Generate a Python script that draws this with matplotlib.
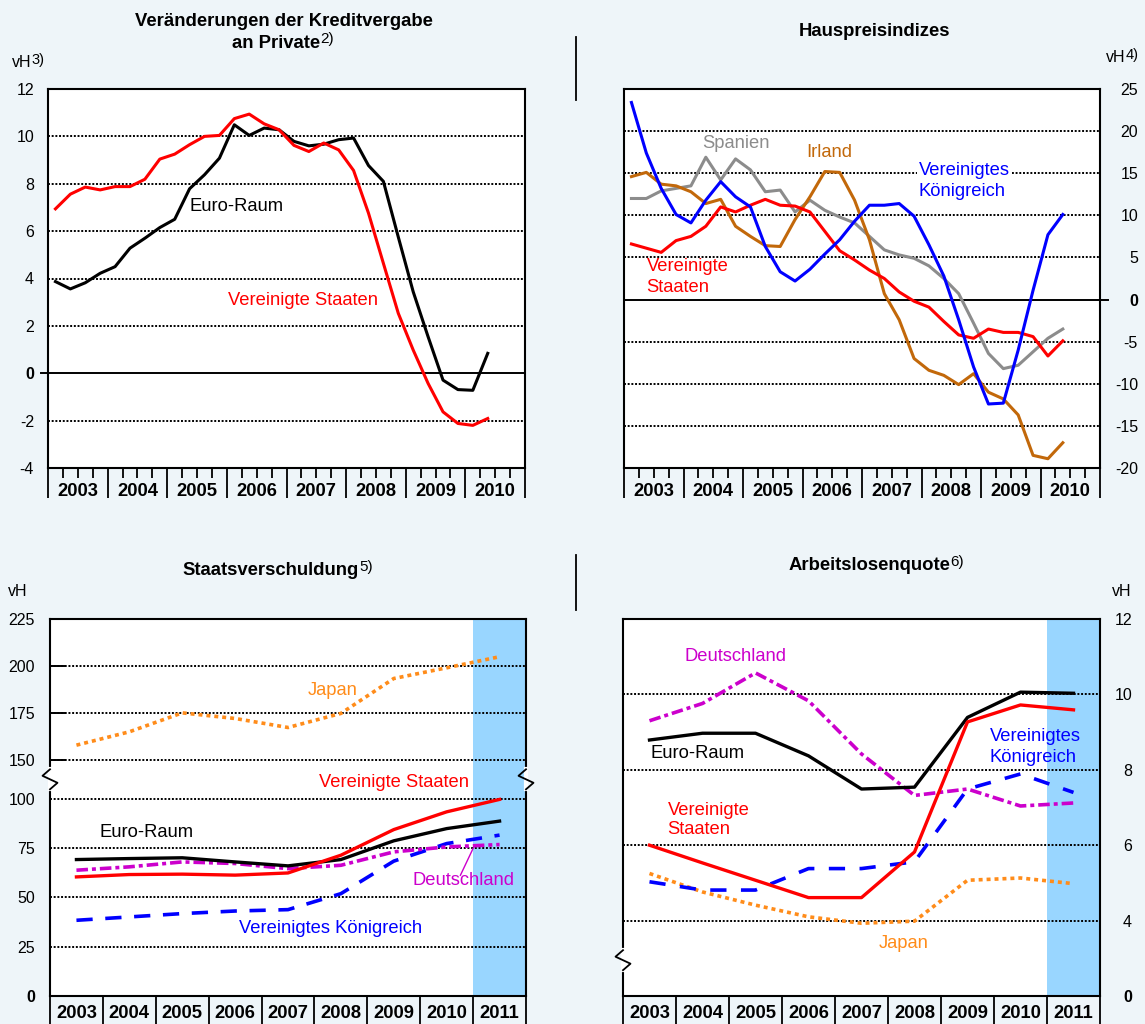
import numpy as np
import matplotlib.pyplot as plt
from matplotlib.lines import Line2D
from matplotlib.text import Annotation

plt.rcParams['font.family'] = ['Liberation Sans', 'DejaVu Sans']

BG = '#EEF5F9'
SHADE = '#99D6FF'
RED = '#FF0000'
BLUE = '#0000FF'
GRAY = '#8C8C8C'
BROWN = '#C2680A'
ORANGE = '#FF8C1A'
MAGENTA = '#CC00CC'

W, H = 1145, 1024

# ---------------- data ----------------
# quarterly series 2003Q1 .. 2010Q2 (points at quarter centres)
quarter_pos = np.arange(2003, 2010.5, 0.25) + 0.125
quarter_ticks = [y + q for y in range(2003, 2011) for q in (0.25, 0.5, 0.75)]
years_q = list(range(2003, 2011))

credit_euro = [3.87, 3.56, 3.82, 4.22, 4.50, 5.28, 5.70, 6.15, 6.50, 7.79,
               8.38, 9.08, 10.49, 10.04, 10.35, 10.28, 9.79, 9.60, 9.67, 9.86,
               9.93, 8.77, 8.10, 5.75, 3.44, 1.54, -0.29, -0.69, -0.72, 0.84]
credit_us = [6.94, 7.56, 7.86, 7.74, 7.88, 7.88, 8.19, 9.04, 9.25, 9.65,
             10.00, 10.04, 10.75, 10.94, 10.53, 10.28, 9.62, 9.36, 9.72, 9.43,
             8.56, 6.76, 4.64, 2.53, 0.98, -0.43, -1.63, -2.12, -2.20, -1.91]

house_uk = [23.4, 17.4, 13.2, 10.1, 9.1, 11.8, 14.0, 12.2, 11.0, 6.3,
            3.3, 2.2, 3.6, 5.4, 7.1, 9.3, 11.2, 11.2, 11.4, 9.9,
            6.5, 2.8, -2.4, -8.0, -12.4, -12.3, -6.0, 1.1, 7.7, 10.1]
house_es = [12.0, 12.0, 12.9, 13.2, 13.5, 16.9, 14.2, 16.7, 15.4, 12.8,
            13.0, 10.4, 11.8, 10.6, 9.8, 9.1, 7.5, 5.9, 5.3, 4.9,
            4.0, 2.5, 0.7, -2.8, -6.4, -8.2, -7.8, -6.2, -4.6, -3.5]
house_ie = [14.6, 15.1, 13.7, 13.5, 12.8, 11.4, 11.9, 8.7, 7.5, 6.4,
            6.3, 9.5, 12.2, 15.2, 15.1, 11.8, 7.1, 0.7, -2.4, -7.0,
            -8.4, -9.0, -10.1, -8.8, -11.0, -11.8, -13.7, -18.5, -18.9, -17.0]
house_us = [6.6, 6.1, 5.6, 7.0, 7.5, 8.7, 11.0, 10.4, 11.2, 11.9,
            11.2, 11.1, 10.4, 8.1, 5.8, 4.7, 3.5, 2.5, 0.9, -0.2,
            -0.9, -2.6, -4.2, -4.6, -3.5, -3.9, -3.9, -4.4, -6.7, -4.9]

# annual series 2003 .. 2011
years = list(range(2003, 2012))
debt_jp = [157.8, 164.9, 175.0, 172.0, 167.2, 174.7, 193.3, 199.0, 204.9]
debt_us = [60.4, 61.6, 61.8, 61.3, 62.4, 71.4, 84.4, 93.4, 99.7]
debt_euro = [69.2, 69.7, 70.1, 68.0, 66.0, 69.2, 78.7, 84.9, 88.7]
debt_de = [63.8, 65.5, 68.0, 67.2, 64.6, 66.3, 73.1, 75.6, 76.8]
debt_uk = [38.4, 40.1, 41.8, 43.1, 43.8, 51.9, 68.4, 77.3, 81.6]

unemp_euro = [8.79, 8.97, 8.97, 8.37, 7.49, 7.54, 9.39, 10.06, 10.03]
unemp_de = [9.30, 9.76, 10.57, 9.83, 8.42, 7.32, 7.49, 7.04, 7.12]
unemp_us = [6.00, 5.53, 5.07, 4.61, 4.61, 5.82, 9.27, 9.72, 9.59]
unemp_uk = [5.03, 4.81, 4.81, 5.38, 5.38, 5.56, 7.49, 7.89, 7.40]
unemp_jp = [5.25, 4.76, 4.41, 4.10, 3.86, 3.97, 5.07, 5.13, 4.98]

# ---------------- figure ----------------
fig = plt.figure(figsize=(W / 100, H / 100), dpi=100, facecolor=BG)


def make_axes(l, t, r, b):
    ax = fig.add_axes([l / W, 1 - b / H, (r - l) / W, (b - t) / H])
    ax.set_facecolor('white')
    for s in ax.spines.values():
        s.set_linewidth(1.5)
        s.set_color('black')
    return ax


def year_axis(ax, edges, labels, centers, minor, label_dy, sep_px):
    ax.set_xlim(edges[0], edges[-1])
    ax.set_xticks(edges, [''] * len(edges))
    ax.tick_params(axis='x', which='major', length=sep_px * 0.72, width=1.3,
                   direction='out', color='black')
    ax.set_xticks(minor, minor=True)
    ax.tick_params(axis='x', which='minor', length=7.2, width=1.3,
                   direction='out', color='black')
    for lab, c in zip(labels, centers):
        ax.annotate(str(lab), xy=(c, 0), xycoords=('data', 'axes fraction'),
                    xytext=(0, -label_dy * 0.72), textcoords='offset points',
                    ha='center', va='center', fontsize=13.2, fontweight='bold')


def y_labels(ax, ticks, pad_px, right=False):
    ax.set_yticks(ticks, [str(t) for t in ticks])
    if right:
        ax.yaxis.tick_right()
    ax.tick_params(axis='y', length=0, pad=pad_px * 0.72, labelsize=11.5)
    for lab in ax.get_yticklabels():
        if lab.get_text() == '0':
            lab.set_fontweight('bold')
        if right:
            lab.set_horizontalalignment('right')


def hgrid(ax, levels):
    for v in levels:
        ax.axhline(v, color='black', lw=1.4, linestyle=(0, (1.0, 0.9)), zorder=1)


ZIG = [(0, 10), (-7.5, 3.5), (7.5, -3.5), (0, -10)]


def zigzag(ax, yval, side):
    px, py = ax.get_yaxis_transform().transform((side, yval))
    inv = fig.transFigure.inverted()
    cover = inv.transform([(px, py + 10), (px, py - 10)])
    fig.add_artist(Line2D(cover[:, 0], cover[:, 1], color='white', lw=3))
    pts = inv.transform([(px + dx, py + dy) for dx, dy in ZIG])
    fig.add_artist(Line2D(pts[:, 0], pts[:, 1], color='black', lw=1.3))


def text_sup(x_px, y_px, main, sup, ha='center', size=13.3, weight='bold', sup_size=11):
    t = fig.text(x_px / W, 1 - y_px / H, main, ha=ha, va='baseline',
                 fontsize=size, fontweight=weight)
    fig.add_artist(Annotation(sup, xy=(1, 1), xycoords=t, xytext=(0.2, 1.5),
                              textcoords='offset points', ha='left', va='top',
                              fontsize=sup_size))
    return t


# ---- top left: Kreditvergabe ----
ax1 = make_axes(48, 89, 525, 468)
ax1.set_ylim(-4, 12)
year_axis(ax1, list(range(2003, 2012)), years_q, [y + 0.5 for y in years_q],
          quarter_ticks, 23, 30)
y_labels(ax1, list(range(-4, 13, 2)), 14)
hgrid(ax1, [-2, 2, 4, 6, 8, 10])
ax1.plot([-7.5 / 477, 1], [0, 0], transform=ax1.get_yaxis_transform(),
         color='black', lw=1.4, clip_on=False, zorder=2)
ax1.plot(quarter_pos, credit_euro, color='black', lw=2.2, zorder=3)
ax1.plot(quarter_pos, credit_us, color=RED, lw=2.2, zorder=3)
ax1.text(2005.38, 7.04, 'Euro-Raum', fontsize=13.2, va='center')
ax1.text(2006.02, 3.09, 'Vereinigte Staaten', fontsize=13.2, va='center', color=RED)

# ---- top right: Hauspreisindizes ----
ax2 = make_axes(624, 89, 1100, 468)
ax2.set_ylim(-20, 25)
year_axis(ax2, list(range(2003, 2012)), years_q, [y + 0.5 for y in years_q],
          quarter_ticks, 23, 30)
y_labels(ax2, list(range(-20, 26, 5)), 38, right=True)
hgrid(ax2, [-15, -10, -5, 5, 10, 15, 20])
ax2.plot([0, 1 + 8 / 476], [0, 0], transform=ax2.get_yaxis_transform(),
         color='black', lw=1.4, clip_on=False, zorder=2)
ax2.plot(quarter_pos, house_es, color=GRAY, lw=2.2, zorder=3)
ax2.plot(quarter_pos, house_ie, color=BROWN, lw=2.2, zorder=3)
ax2.plot(quarter_pos, house_us, color=RED, lw=2.2, zorder=3)
ax2.plot(quarter_pos, house_uk, color=BLUE, lw=2.2, zorder=4)
ax2.text(2004.31, 18.5, 'Spanien', fontsize=13.2, va='center', color=GRAY)
ax2.text(2006.06, 17.47, 'Irland', fontsize=13.2, va='center', color=BROWN)
for txt, yv in (('Vereinigtes', 15.33), ('Königreich', 12.83)):
    ax2.text(2007.95, yv, txt, fontsize=13.2, va='center', color=BLUE, zorder=2,
             bbox=dict(facecolor='white', edgecolor='none', pad=1.5))
for txt, yv in (('Vereinigte', 3.9), ('Staaten', 1.45)):
    ax2.text(2003.38, yv, txt, fontsize=13.2, va='center', color=RED)

# ---- bottom left: Staatsverschuldung (broken axis) ----
d_val = [-1000, 0, 100, 150, 225, 1000]
d_disp = [-1000, 0, 100, 119.8, 191.2, 930]
ax3 = make_axes(50, 619, 526, 996)
ax3.set_yscale('function', functions=(lambda v: np.interp(v, d_val, d_disp),
                                      lambda d: np.interp(d, d_disp, d_val)))
ax3.set_ylim(0, 225)
edges_a = [y - 0.5 for y in years] + [years[-1] + 0.5]
year_axis(ax3, edges_a, years, years, [], 17, 30)
y_labels(ax3, [0, 25, 50, 75, 100, 150, 175, 200, 225], 15)
ax3.axvspan(2010.5, 2011.5, color=SHADE, lw=0, zorder=0.5)
hgrid(ax3, [25, 50, 75, 100, 150, 175, 200])
for v in (150, 175, 200):
    ax3.plot([0, 15 / 476], [v, v], transform=ax3.get_yaxis_transform(),
             color='black', lw=1.4, zorder=2)
ax3.plot(years, debt_jp, color=ORANGE, lw=2.6, linestyle=(0, (1.1, 1.1)),
         dash_capstyle='butt', zorder=3)
ax3.plot(years, debt_uk, color=BLUE, lw=2.6, linestyle=(0, (4.5, 3.5)),
         dash_capstyle='butt', zorder=3)
ax3.plot(years, debt_de, color=MAGENTA, lw=2.6, linestyle=(0, (3.2, 1.1, 1.1, 1.1)),
         dash_capstyle='butt', zorder=3)
ax3.plot(years, debt_euro, color='black', lw=2.4, zorder=3)
ax3.plot(years, debt_us, color=RED, lw=2.4, zorder=3)
ax3.text(2007.375, 186.8, 'Japan', fontsize=13.2, va='center', color=ORANGE)
ax3.text(2007.58, 121, 'Vereinigte Staaten', fontsize=13.2, va='center', color=RED)
ax3.text(2003.43, 82.7, 'Euro-Raum', fontsize=13.2, va='center')
ax3.text(2009.35, 58.7, 'Deutschland', fontsize=13.2, va='center', color=MAGENTA)
ax3.plot([2010.26, 2010.52], [61.25, 76.0], color=MAGENTA, lw=1.0, zorder=3)
ax3.text(2006.07, 34.2, 'Vereinigtes Königreich', fontsize=13.2, va='center', color=BLUE)

# ---- bottom right: Arbeitslosenquote (broken axis) ----
u_val = [-100, 0, 4, 12, 100]
u_disp = [-98, 2, 4, 12, 100]
ax4 = make_axes(623, 619, 1100, 996)
ax4.set_yscale('function', functions=(lambda v: np.interp(v, u_val, u_disp),
                                      lambda d: np.interp(d, u_disp, u_val)))
ax4.set_ylim(0, 12)
year_axis(ax4, edges_a, years, years, [], 17, 30)
y_labels(ax4, [0, 4, 6, 8, 10, 12], 32, right=True)
ax4.axvspan(2010.5, 2011.5, color=SHADE, lw=0, zorder=0.5)
hgrid(ax4, [4, 6, 8, 10])
ax4.plot(years, unemp_jp, color=ORANGE, lw=2.6, linestyle=(0, (1.1, 1.1)),
         dash_capstyle='butt', zorder=3)
ax4.plot(years, unemp_uk, color=BLUE, lw=2.6, linestyle=(0, (4.5, 4.0)),
         dash_capstyle='butt', zorder=3)
ax4.plot(years, unemp_de, color=MAGENTA, lw=2.6, linestyle=(0, (3.2, 1.1, 1.1, 1.1)),
         dash_capstyle='butt', zorder=3)
ax4.plot(years, unemp_euro, color='black', lw=2.4, zorder=3)
ax4.plot(years, unemp_us, color=RED, lw=2.4, zorder=3)
ax4.text(2003.66, 11.0, 'Deutschland', fontsize=13.2, va='center', color=MAGENTA)
ax4.text(2003.02, 8.42, 'Euro-Raum', fontsize=13.2, va='center')
for txt, yv in (('Vereinigte', 6.92), ('Staaten', 6.41)):
    ax4.text(2003.34, yv, txt, fontsize=13.2, va='center', color=RED)
for txt, yv in (('Vereinigtes', 8.88), ('Königreich', 8.33)):
    ax4.text(2009.42, yv, txt, fontsize=13.2, va='center', color=BLUE)
ax4.text(2007.33, 2.76, 'Japan', fontsize=13.2, va='center', color=ORANGE)

# ---- breaks ----
zigzag(ax3, 125, 0)
zigzag(ax3, 125, 1)
zigzag(ax4, 1.9, 0)

# ---- titles and units ----
fig.text(284 / W, 1 - 26.5 / H, 'Veränderungen der Kreditvergabe', ha='center',
         va='baseline', fontsize=13.3, fontweight='bold')
text_sup(276, 47.5, 'an Private', '2)')
fig.text(875 / W, 1 - 35.5 / H, 'Hauspreisindizes', ha='center', va='baseline',
         fontsize=13.3, fontweight='bold')
text_sup(271, 575, 'Staatsverschuldung', '5)')
text_sup(869, 570, 'Arbeitslosenquote', '6)')

text_sup(12, 67, 'vH', '3)', ha='left', size=11.5, weight='normal', sup_size=10.5)
text_sup(1106, 62, 'vH', '4)', ha='left', size=11.5, weight='normal', sup_size=10.5)
fig.text(8 / W, 1 - 596 / H, 'vH', ha='left', va='baseline', fontsize=11.5)
fig.text(1131 / W, 1 - 596 / H, 'vH', ha='right', va='baseline', fontsize=11.5)

# divider lines between the columns
fig.add_artist(Line2D([575.5 / W, 575.5 / W], [1 - 37 / H, 1 - 100 / H], color='black', lw=1.3))
fig.add_artist(Line2D([575.5 / W, 575.5 / W], [1 - 555 / H, 1 - 610 / H], color='black', lw=1.3))

fig.savefig('out.png', dpi=100, facecolor=BG)
